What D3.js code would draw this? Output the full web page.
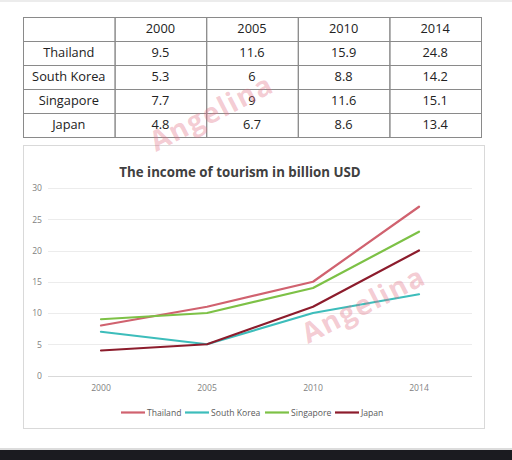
<!DOCTYPE html>
<html><head><meta charset="utf-8">
<script src="https://cdn.jsdelivr.net/npm/d3@7"></script>
<style>html,body{margin:0;padding:0;background:#fff;}svg{display:block;}</style>
</head><body>
<script>
const years = ["2000","2005","2010","2014"];
const countries = ["Thailand","South Korea","Singapore","Japan"];
const tableThailand = ["9.5","11.6","15.9","24.8"];
const tableSouthKorea = ["5.3","6","8.8","14.2"];
const tableSingapore = ["7.7","9","11.6","15.1"];
const tableJapan = ["4.8","6.7","8.6","13.4"];
const lineThailand = [8, 11, 15, 27];
const lineSouthKorea = [7, 5, 10, 13];
const lineSingapore = [9, 10, 14, 23];
const lineJapan = [4, 5, 11, 20];
const yTicks = [0,5,10,15,20,25,30];
const colors = ["#d0626f","#3dbdbb","#7dc146","#8c1c2c"];
const title = "The  income of tourism in billion USD";

const W = 512, H = 460;
const svg = d3.select("body").append("svg").attr("width", W).attr("height", H);
svg.append("rect").attr("x",0).attr("y",0).attr("width",W).attr("height",H).attr("fill","#fff");
svg.append("rect").attr("x",0).attr("y",0).attr("width",W).attr("height",2).attr("fill","#ececec");
svg.append("rect").attr("x",0).attr("y",450).attr("width",W).attr("height",10).attr("fill","#1b1b20");
svg.append("rect").attr("x",0).attr("y",448).attr("width",W).attr("height",2).attr("fill","#dcdcdc");

// ---------- Table ----------
const tableRows = [tableThailand, tableSouthKorea, tableSingapore, tableJapan];
const colX = d3.scaleBand().domain(["label"].concat(years)).range([23, 481]);
const rowY = d3.scaleBand().domain(["head"].concat(countries)).range([17, 137]);
const tg = svg.append("g").attr("font-family","'Open Sans', sans-serif").attr("font-size",12.8).attr("fill","#222");
["head"].concat(countries).forEach(r => {
  ["label"].concat(years).forEach(c => {
    tg.append("rect").attr("x", colX(c)+0.5).attr("y", rowY(r)+0.5)
      .attr("width", colX.bandwidth()).attr("height", rowY.bandwidth())
      .attr("fill","none").attr("stroke","#8a8a8a").attr("stroke-width",1);
  });
});
years.forEach(y => {
  tg.append("text").attr("x", colX(y)+colX.bandwidth()/2).attr("y", rowY("head")+rowY.bandwidth()/2)
    .attr("text-anchor","middle").attr("dy","0.35em").text(y);
});
countries.forEach((c,i) => {
  tg.append("text").attr("x", colX("label")+colX.bandwidth()/2).attr("y", rowY(c)+rowY.bandwidth()/2)
    .attr("text-anchor","middle").attr("dy","0.35em").text(c);
  years.forEach((y,j) => {
    tg.append("text").attr("x", colX(y)+colX.bandwidth()/2).attr("y", rowY(c)+rowY.bandwidth()/2)
      .attr("text-anchor","middle").attr("dy","0.35em").text(tableRows[i][j]);
  });
});

// ---------- Chart ----------
svg.append("rect").attr("x",23.5).attr("y",145.5).attr("width",461).attr("height",283)
  .attr("fill","#fff").attr("stroke","#d9d9d9").attr("stroke-width",1);
svg.append("text").attr("x",240).attr("y",177).attr("text-anchor","middle")
  .attr("font-family","'Open Sans', sans-serif").attr("font-weight","bold").attr("font-size",13.3)
  .attr("fill","#404040").text(title);

const x = d3.scaleBand().domain(years).range([48, 472]);
const y = d3.scaleLinear().domain([0,30]).range([375.5, 188]);

const grid = svg.append("g");
yTicks.forEach(t => {
  grid.append("line").attr("x1",48).attr("x2",472).attr("y1",Math.round(y(t))+0.5).attr("y2",Math.round(y(t))+0.5)
    .attr("stroke", t===0 ? "#d9d9d9" : "#ececec").attr("stroke-width",1);
});
const yAxis = svg.append("g").attr("transform","translate(48,0)")
  .call(d3.axisLeft(y).tickValues(yTicks).tickSize(0).tickPadding(6));
yAxis.select(".domain").remove();
yAxis.selectAll("text").attr("font-family","'Open Sans', sans-serif").attr("font-size",8.6).attr("fill","#7f7f7f");

const xAxis = svg.append("g").attr("transform","translate(0,376)")
  .call(d3.axisBottom(x).tickSize(0).tickPadding(9));
xAxis.select(".domain").remove();
xAxis.selectAll("text").attr("font-family","'Open Sans', sans-serif").attr("font-size",8.6).attr("fill","#7f7f7f");

const series = [lineThailand, lineSouthKorea, lineSingapore, lineJapan];
const line = d3.line().x((d,i) => x(years[i]) + x.bandwidth()/2).y(d => y(d));
series.forEach((s,i) => {
  svg.append("path").datum(s).attr("d", line).attr("fill","none")
    .attr("stroke", colors[i]).attr("stroke-width", 2.2).attr("stroke-linejoin","round").attr("stroke-linecap","round");
});

// Legend
const legendX = [121, 185, 265, 335];
const lg = svg.append("g").attr("font-family","'Open Sans', sans-serif").attr("font-size",8.6).attr("fill","#595959");
countries.forEach((c,i) => {
  lg.append("line").attr("x1",legendX[i]).attr("x2",legendX[i]+24).attr("y1",412.5).attr("y2",412.5)
    .attr("stroke",colors[i]).attr("stroke-width",2.2);
  lg.append("text").attr("x",legendX[i]+26).attr("y",412.5).attr("dy","0.35em").text(c);
});

// Watermarks
[[156,152],[308,344]].forEach(p => {
  svg.append("text").attr("transform",`translate(${p[0]},${p[1]}) rotate(-27)`)
    .attr("font-family","'Open Sans', sans-serif").attr("font-weight","bold").attr("font-size",28)
    .attr("fill","rgba(225,110,130,0.36)").attr("letter-spacing",1.5).text("Angelina");
});
</script>
</body></html>
